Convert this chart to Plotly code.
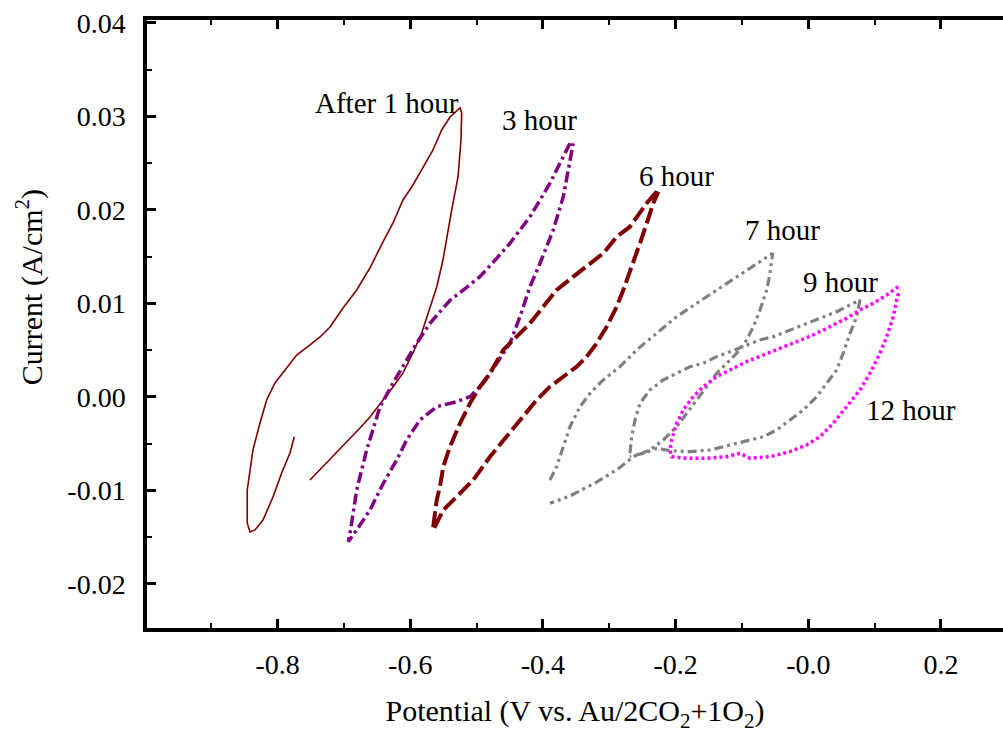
import plotly.graph_objects as go

# ---------------- data (Potential V, Current A/cm2) ----------------
h1_x = [-0.7748, -0.7813, -0.7938, -0.8069, -0.8220, -0.8340, -0.8416, -0.8457, -0.8457, -0.8371,
        -0.8265, -0.8164, -0.8039, -0.7888, -0.7712, -0.7511, -0.7360, -0.7209, -0.7013, -0.6807,
        -0.6607, -0.6411, -0.6260, -0.6109, -0.5978, -0.5828, -0.5657, -0.5526, -0.5401, -0.5250,
        -0.5225, -0.5235, -0.5280, -0.5375, -0.5431, -0.5507, -0.5601, -0.5733, -0.5828, -0.5959,
        -0.6109, -0.6260, -0.6411, -0.6607, -0.6758, -0.6958, -0.7209, -0.7511]
h1_y = [-0.00425, -0.00599, -0.00813, -0.01070, -0.01316, -0.01422, -0.01444, -0.01348, -0.00995, -0.00567,
        -0.00278, -0.00032, 0.00150, 0.00289, 0.00449, 0.00556, 0.00642, 0.00749, 0.00952, 0.01144,
        0.01380, 0.01658, 0.01861, 0.02107, 0.02246, 0.02428, 0.02642, 0.02856, 0.02995, 0.03091,
        0.03037, 0.02749, 0.02353, 0.02000, 0.01754, 0.01465, 0.01176, 0.00898, 0.00684, 0.00471,
        0.00257, 0.00107, -0.00032, -0.00214, -0.00332, -0.00481, -0.00674, -0.00888]

h3_x = [-0.3592, -0.3894, -0.4195, -0.4497, -0.4697, -0.4949, -0.5201, -0.5397, -0.5703, -0.5903,
        -0.6204, -0.6456, -0.6657, -0.6807, -0.6908, -0.6934,
        -0.6807, -0.6607, -0.6406, -0.6204, -0.6054, -0.5853, -0.5601, -0.5300, -0.5099, -0.4899,
        -0.4697, -0.4497, -0.4346, -0.4195, -0.4044, -0.3844, -0.3693, -0.3618, -0.3543]
h3_y = [0.02713, 0.02286, 0.01928, 0.01644, 0.01483, 0.01287, 0.01144, 0.01037, 0.00788, 0.00574,
        0.00217, -0.00104, -0.00567, -0.00995, -0.01458, -0.01548,
        -0.01422, -0.01209, -0.00923, -0.00674, -0.00460, -0.00246, -0.00104, -0.00050, 0.00003, 0.00147,
        0.00360, 0.00574, 0.00859, 0.01180, 0.01430, 0.01786, 0.02142, 0.02428, 0.02713]

h6_x = [-0.2285, -0.2436, -0.2688, -0.2888, -0.3090, -0.3291, -0.3542, -0.3793, -0.3995, -0.4195,
        -0.4396, -0.4598, -0.4798, -0.4949, -0.5099, -0.5250, -0.5401, -0.5502, -0.5552, -0.5601,
        -0.5653, -0.5653, -0.5502, -0.5300, -0.5050, -0.4798, -0.4546, -0.4296, -0.4094, -0.3894,
        -0.3693, -0.3491, -0.3340, -0.3190, -0.3039, -0.2888, -0.2789, -0.2638, -0.2537, -0.2436,
        -0.2336, -0.2261]
h6_y = [0.02196, 0.02072, 0.01821, 0.01714, 0.01537, 0.01430, 0.01287, 0.01144, 0.00966, 0.00788,
        0.00645, 0.00503, 0.00253, 0.00110, -0.00067, -0.00281, -0.00532, -0.00745, -0.00959, -0.01102,
        -0.01387, -0.01422, -0.01209, -0.01066, -0.00888, -0.00639, -0.00425, -0.00211, -0.00032, 0.00110,
        0.00217, 0.00324, 0.00431, 0.00574, 0.00752, 0.00966, 0.01144, 0.01430, 0.01644, 0.01858,
        0.02072, 0.02196]

h7_x = [-0.3894, -0.3793, -0.3693, -0.3592, -0.3441, -0.3291, -0.3090, -0.2838, -0.2587, -0.2285,
        -0.1984, -0.1682, -0.1381, -0.1079, -0.0778, -0.0537,
        -0.0577, -0.0627, -0.0728, -0.0829, -0.0929, -0.1079, -0.1230, -0.1381, -0.1532, -0.1682,
        -0.1833, -0.1984, -0.2186, -0.2386, -0.2638, -0.2869, -0.3185, -0.3592, -0.3894]
h7_y = [-0.00888, -0.00745, -0.00532, -0.00318, -0.00104, 0.00040, 0.00182, 0.00324, 0.00503, 0.00681,
        0.00859, 0.01002, 0.01144, 0.01287, 0.01430, 0.01537,
        0.01323, 0.01144, 0.00930, 0.00752, 0.00610, 0.00467, 0.00360, 0.00253, 0.00110, -0.00032,
        -0.00174, -0.00318, -0.00460, -0.00567, -0.00639, -0.00770, -0.00909, -0.01059, -0.01137]

h9_x = [-0.2688, -0.2662, -0.2612, -0.2537, -0.2386, -0.2186, -0.1984, -0.1783, -0.1583, -0.1381,
        -0.1180, -0.0980, -0.0728, -0.0528, -0.0276, -0.0024, 0.0226, 0.0428, 0.0629, 0.0779,
        0.0730, 0.0629, 0.0528, 0.0428, 0.0277, 0.0127, -0.0075, -0.0276, -0.0476, -0.0678,
        -0.0879, -0.1079, -0.1281, -0.1482, -0.1783, -0.2085, -0.2285, -0.2487, -0.2688]
h9_y = [-0.00602, -0.00425, -0.00246, -0.00067, 0.00075, 0.00182, 0.00253, 0.00324, 0.00360, 0.00431,
        0.00484, 0.00538, 0.00610, 0.00645, 0.00717, 0.00788, 0.00859, 0.00912, 0.00984, 0.01037,
        0.00859, 0.00681, 0.00471, 0.00289, 0.00147, 0.00003, -0.00139, -0.00246, -0.00353, -0.00425,
        -0.00460, -0.00495, -0.00532, -0.00567, -0.00585, -0.00574, -0.00549, -0.00602, -0.00639]

h12_x = [0.1357, 0.1182, 0.0980, 0.0779, 0.0579, 0.0327, 0.0075, -0.0175, -0.0427, -0.0678,
         -0.0929, -0.1180, -0.1381, -0.1583, -0.1733, -0.1884, -0.1984, -0.2059, -0.2085, -0.2059,
         -0.1833, -0.1532, -0.1230, -0.1030, -0.0879, -0.0577, -0.0276, -0.0024, 0.0176, 0.0377,
         0.0579, 0.0779, 0.0930, 0.1081, 0.1182, 0.1281, 0.1333, 0.1372]
h12_y = [0.01180, 0.01091, 0.01002, 0.00930, 0.00842, 0.00752, 0.00663, 0.00591, 0.00521, 0.00449,
         0.00378, 0.00289, 0.00217, 0.00110, 0.00003, -0.00139, -0.00281, -0.00460, -0.00567, -0.00639,
         -0.00656, -0.00656, -0.00639, -0.00602, -0.00656, -0.00639, -0.00585, -0.00513, -0.00425, -0.00281,
         -0.00104, 0.00075, 0.00253, 0.00467, 0.00645, 0.00859, 0.01037, 0.01144]

labels = ["After 1 hour", "3 hour", "6 hour", "7 hour", "9 hour", "12 hour"]
label_x = [-0.635, -0.4045, -0.1994, -0.0396, 0.0493, 0.1547]
label_y = [0.03144, 0.02963, 0.02364, 0.01786, 0.01230, -0.00139]

x_tickvals = [-0.8, -0.6, -0.4, -0.2, 0.0, 0.2]
x_ticktext = ["-0.8", "-0.6", "-0.4", "-0.2", "-0.0", "0.2"]
y_tickvals = [-0.02, -0.01, 0.00, 0.01, 0.02, 0.03, 0.04]
y_ticktext = ["-0.02", "-0.01", "0.00", "0.01", "0.02", "0.03", "0.04"]
right_tickvals = [0.03506, 0.02287, 0.01078, -0.0012, -0.01328]

x_range = [-0.9968, 0.2935]
y_range = [-0.02471, 0.04032]

FONT = "Liberation Serif"

series = [
    ("After 1 hour", h1_x, h1_y, "#800000", 1.6, "solid"),
    ("3 hour", h3_x, h3_y, "#800080", 3.5, "11px,4px,3px,4px"),
    ("6 hour", h6_x, h6_y, "#800000", 4, "16px,5px"),
    ("7 hour", h7_x, h7_y, "#808080", 3.2, "9px,4px,3px,4px,3px,4px"),
    ("9 hour", h9_x, h9_y, "#808080", 3.2, "9px,4px,3px,4px,3px,4px"),
    ("12 hour", h12_x, h12_y, "#ff00ff", 3.5, "3px,3px"),
]

fig = go.Figure()
for name, xs, ys, col, w, dash in series:
    fig.add_trace(go.Scatter(x=xs, y=ys, mode="lines", name=name,
                             line=dict(color=col, width=w, dash=dash)))

for t, x, y in zip(labels, label_x, label_y):
    fig.add_annotation(x=x, y=y, text=t, showarrow=False, xref="x", yref="y",
                       font=dict(family=FONT, size=29, color="black"),
                       xanchor="center", yanchor="middle")

fig.add_annotation(x=-0.137, y=0.56, xref="paper", yref="paper", text="Current (A/cm<sup>2</sup>)",
                   textangle=-90, showarrow=False, font=dict(family=FONT, size=30, color="black"),
                   xanchor="center", yanchor="middle")

fig.update_layout(
    width=1003, height=737,
    margin=dict(l=147, r=0, t=20, b=109),
    paper_bgcolor="white", plot_bgcolor="white",
    showlegend=False,
    font=dict(family=FONT, size=28, color="black"),
    xaxis=dict(range=x_range, showline=True, linewidth=3.5, linecolor="black", mirror="ticks",
               ticks="inside", ticklen=9, tickwidth=3, tickcolor="black",
               tickmode="array", tickvals=x_tickvals, ticktext=x_ticktext,
               minor=dict(ticks="inside", ticklen=5, tickwidth=2, dtick=0.1, tick0=0, tickcolor="black"),
               showgrid=False, zeroline=False, ticklabelstandoff=9,
               tickfont=dict(family=FONT, size=28, color="black"),
               title=dict(text="Potential (V vs. Au/2CO<sub>2</sub>+1O<sub>2</sub>)",
                          font=dict(family=FONT, size=30, color="black"), standoff=22)),
    yaxis=dict(range=y_range, showline=True, linewidth=3.5, linecolor="black", mirror=False,
               ticks="inside", ticklen=9, tickwidth=3, tickcolor="black",
               tickmode="array", tickvals=y_tickvals, ticktext=y_ticktext,
               minor=dict(ticks="inside", ticklen=5, tickwidth=2, dtick=0.005, tick0=0, tickcolor="black"),
               showgrid=False, zeroline=False, ticklabelstandoff=12,
               tickfont=dict(family=FONT, size=28, color="black")),
    yaxis2=dict(range=y_range, overlaying="y", side="right", anchor="x",
                showline=False, showgrid=False, zeroline=False, showticklabels=False,
                ticks="inside", ticklen=4, tickwidth=3, tickcolor="black",
                tickmode="array", tickvals=right_tickvals),
)

fig.write_html("out.html")
